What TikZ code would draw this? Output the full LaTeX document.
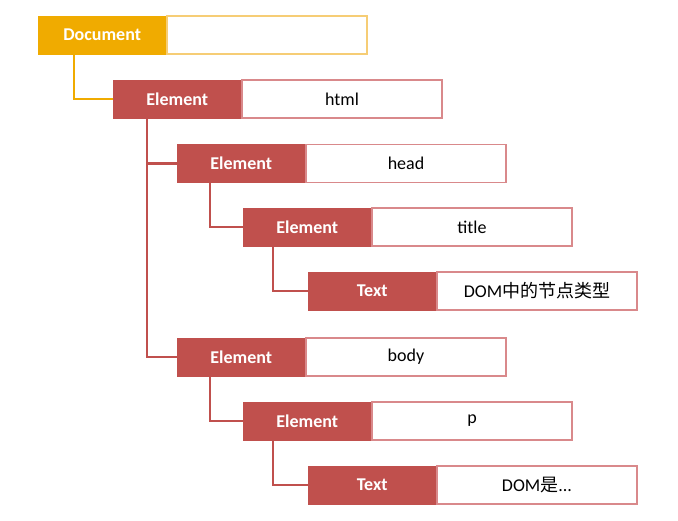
\documentclass[tikz,border=0pt]{standalone}
\usepackage{fontspec}
\setmainfont{Carlito}
\newfontfamily\cjk{Noto Sans CJK SC}
\usetikzlibrary{positioning}

\definecolor{docorange}{HTML}{F0AB00}
\definecolor{docborder}{HTML}{F6CD75}
\definecolor{elred}{HTML}{C0504D}
\definecolor{elborder}{HTML}{D9898B}

\begin{document}
\begin{tikzpicture}[x=1pt,y=-1pt,node distance=0pt,
  kind/.style={shape=rectangle,minimum width=128pt,minimum height=38pt,inner sep=0pt,anchor=west,text=white,font=\bfseries\fontsize{18}{21}\selectfont,fill=elred,draw=elred},
  value/.style={shape=rectangle,minimum width=200pt,minimum height=38pt,inner sep=0pt,fill=white,draw=elborder,line width=1.2pt,font=\fontsize{18}{21}\selectfont},
  docfill/.style={fill=docorange,draw=docorange},
  link/.style={draw=elred,line width=2.2pt}]
\useasboundingbox (0,0) rectangle (678,521);

% the tree, one row per node
\node[kind,docfill] (doc) at (38,35) {Document};
\node[value,draw=docborder] (docval) [right=of doc] {};
\node[kind] (html) at (113,99) {Element};
\node[value] (htmlval) [right=of html] {html};
\node[kind] (head) at (177,163.5) {Element};
\node[value] (headval) [right=of head] {head};
\node[kind] (title) at (243,227) {Element};
\node[value] (titleval) [right=of title] {title};
\node[kind] (txta) at (308,291) {Text};
\node[value] (txtaval) [right=of txta] {DOM{\cjk 中的节点类型}};
\node[kind] (body) at (177,357) {Element};
\node[value] (bodyval) [right=of body] {body};
\node[kind] (para) at (243,421) {Element};
\node[value] (paraval) [right=of para] {p};
\node[kind] (txtb) at (308,485) {Text};
\node[value] (txtbval) [right=of txtb] {DOM{\cjk 是}...};

% connectors
\draw[link,draw=docorange] ([xshift=36pt]doc.south west) |- (html.west);
\draw[link] ([xshift=34pt]html.south west) |- (head.west);
\draw[link] ([xshift=34pt]html.south west) |- (body.west);
\draw[link] ([xshift=33pt]head.south west) |- (title.west);
\draw[link] ([xshift=30pt]title.south west) |- (txta.west);
\draw[link] ([xshift=33pt]body.south west) |- (para.west);
\draw[link] ([xshift=30pt]para.south west) |- (txtb.west);
\end{tikzpicture}
\end{document}
